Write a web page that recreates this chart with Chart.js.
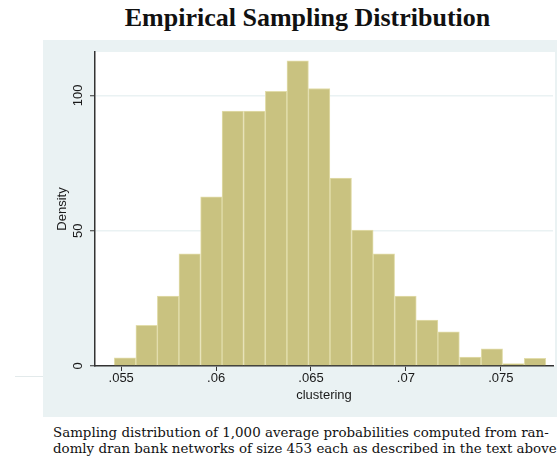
<!DOCTYPE html>
<html lang="en">
<head>
  <meta charset="UTF-8">
  <title>Empirical Sampling Distribution</title>
  <script src="https://cdn.jsdelivr.net/npm/chart.js"></script>
  <style>
    html, body { margin: 0; padding: 0; background: #fff; width: 557px; height: 459px; overflow: hidden; }
    #title { position: absolute; left: 0; top: 3px; width: 615px; text-align: center;
             font: bold 26px "Liberation Serif", serif; color: #111; white-space: nowrap; }
    #box { position: absolute; left: 43px; top: 40px; width: 514px; height: 377px; }
    #rule { position: absolute; left: 15px; top: 376px; width: 28px; height: 1px; background: #e3eaeb; }
    #caption { position: absolute; left: 53px; top: 425px; font: 13.4px "DejaVu Serif", serif;
               line-height: 16px; color: #111; white-space: nowrap; }
  </style>
</head>
<body>
  <div id="title">Empirical Sampling Distribution</div>
  <div id="rule"></div>
  <div id="box"><canvas id="histChart" width="514" height="377"></canvas></div>
  <div id="caption">Sampling distribution of 1,000 average probabilities computed from ran-<br>domly dran bank networks of size 453 each as described in the text above</div>

  <script>
    // bin centres (clustering) and heights (density)
    const binCenters = [0.05520, 0.05634, 0.05747, 0.05861, 0.05975, 0.06088, 0.06202, 0.06316, 0.06430, 0.06543,
                        0.06657, 0.06771, 0.06884, 0.06998, 0.07112, 0.07225, 0.07339, 0.07453, 0.07566, 0.07680];
    const densities = [3.0, 15.0, 25.8, 41.4, 62.5, 94.2, 94.2, 101.5, 112.7, 102.5,
                       69.4, 50.2, 41.4, 25.8, 17.0, 12.6, 3.3, 6.3, 0.9, 2.8];
    const xTicks = [0.055, 0.06, 0.065, 0.07, 0.075];
    const xTickLabels = ['.055', '.06', '.065', '.07', '.075'];
    const yTicks = [0, 50, 100];

    const bg = {
      id: 'bg',
      beforeDraw(chart) {
        const { ctx, chartArea: a } = chart;
        ctx.save();
        ctx.fillStyle = '#eaf2f3';
        ctx.fillRect(0, 0, chart.width, chart.height);
        ctx.fillStyle = '#ffffff';
        ctx.fillRect(a.left, a.top, a.right - a.left + 2, a.bottom - a.top);
        ctx.restore();
      }
    };

    const ctx = document.getElementById('histChart').getContext('2d');
    new Chart(ctx, {
      type: 'bar',
      data: {
        datasets: [{
          data: binCenters.map((x, i) => ({ x: x, y: densities[i] })),
          backgroundColor: '#c9c280',
          borderColor: '#e2ddab',
          borderWidth: 1,
          barPercentage: 1,
          categoryPercentage: 1
        }]
      },
      options: {
        responsive: false,
        animation: false,
        layout: { padding: { top: 12, right: 4, left: 0, bottom: 0 } },
        plugins: { legend: { display: false }, tooltip: { enabled: false } },
        scales: {
          x: {
            type: 'linear',
            min: 0.05362,
            max: 0.07775,
            offset: false,
            afterFit: s => { s.height = 51; },
            afterBuildTicks: s => { s.ticks = xTicks.map(v => ({ value: v })); },
            grid: { offset: false, drawOnChartArea: false, tickColor: '#333', tickLength: 5, tickWidth: 1 },
            border: { color: '#333', width: 1.5 },
            ticks: {
              font: { family: 'Liberation Sans', size: 13 },
              color: '#1a1a1a',
              padding: 0,
              maxRotation: 0,
              callback: v => xTickLabels[xTicks.indexOf(v)]
            },
            title: {
              display: true,
              text: 'clustering',
              font: { family: 'Liberation Sans', size: 13 },
              color: '#1a1a1a',
              padding: { top: 0, bottom: 14 }
            }
          },
          y: {
            min: 0,
            max: 116,
            afterFit: s => { s.width = 52; },
            afterBuildTicks: s => { s.ticks = yTicks.map(v => ({ value: v })); },
            grid: { color: '#eaf2f3', lineWidth: 1.5, tickColor: '#333', tickLength: 5, tickWidth: 1 },
            border: { color: '#333', width: 1.5 },
            ticks: {
              font: { family: 'Liberation Sans', size: 13 },
              color: '#1a1a1a',
              minRotation: 90,
              maxRotation: 90,
              crossAlign: 'center',
              padding: 1
            },
            title: {
              display: true,
              text: 'Density',
              font: { family: 'Liberation Sans', size: 13 },
              color: '#1a1a1a',
              padding: { top: 12, bottom: 0 }
            }
          }
        }
      },
      plugins: [bg]
    });
  </script>
</body>
</html>
